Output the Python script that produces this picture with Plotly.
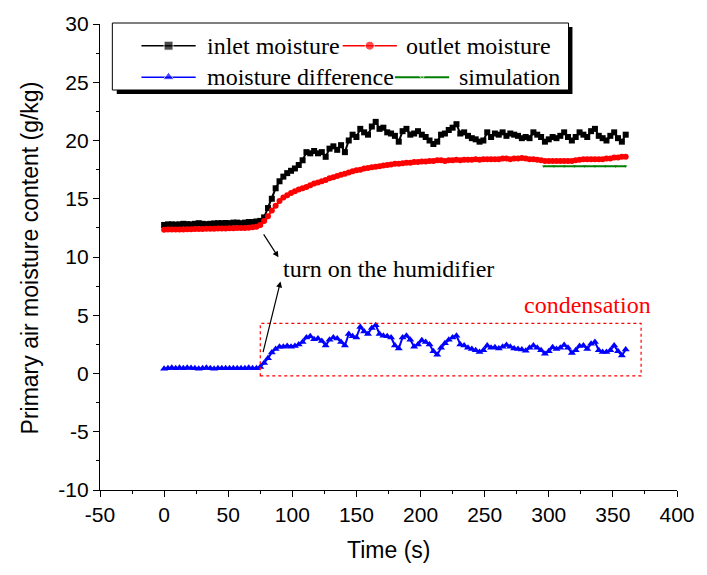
import numpy as np
import plotly.graph_objects as go

# Time axis of the measurements (s), one reading every 3 s
time_s = list(range(0, 361, 3))

inlet_moisture = [
    12.75, 12.8, 12.8, 12.78, 12.8, 12.85, 12.82, 12.8, 12.85, 12.9, 12.85, 12.82,
    12.85, 12.88, 12.9, 12.9, 12.92, 12.9, 12.95, 12.95, 12.9, 12.95, 13.0, 13.0,
    13.05, 13.1, 13.4, 14.2, 15.0, 15.9, 16.5, 16.9, 17.2, 17.4, 17.6, 17.9,
    18.3, 19.0, 18.9, 19.1, 18.9, 19.0, 18.6, 19.3, 19.5, 19.2, 19.6, 19.0,
    20.0, 20.5, 20.3, 21.0, 20.7, 20.5, 21.2, 21.6, 21.0, 21.1, 20.7, 20.6,
    20.4, 19.9, 20.8, 21.0, 20.5, 20.6, 20.8, 20.5, 20.3, 20.0, 19.7, 19.9,
    20.5, 20.6, 20.9, 21.1, 21.4, 20.6, 20.7, 20.4, 20.2, 20.1, 19.9, 20.0,
    20.7, 20.3, 20.6, 20.5, 20.7, 20.4, 20.6, 20.5, 20.4, 20.2, 20.3, 20.2,
    20.7, 20.5, 20.3, 19.9, 20.1, 20.3, 20.2, 20.4, 20.7, 20.3, 20.0, 20.3,
    20.7, 20.5, 20.3, 20.8, 21.0, 20.4, 20.2, 20.0, 20.4, 20.7, 20.2, 19.9,
    20.5,
]

outlet_moisture = [
    12.33, 12.35, 12.35, 12.35, 12.37, 12.37, 12.38, 12.38, 12.4, 12.4, 12.4, 12.42,
    12.42, 12.43, 12.45, 12.45, 12.45, 12.47, 12.47, 12.48, 12.5, 12.5, 12.52, 12.55,
    12.6, 12.75, 13.1, 13.5, 14.0, 14.4, 14.8, 15.1, 15.3, 15.5, 15.65, 15.8,
    15.9, 16.0, 16.15, 16.3, 16.4, 16.5, 16.6, 16.75, 16.85, 16.95, 17.05, 17.15,
    17.25, 17.35, 17.45, 17.5, 17.6, 17.65, 17.7, 17.75, 17.8, 17.85, 17.9, 17.95,
    18.0, 18.0, 18.05, 18.1, 18.1, 18.15, 18.15, 18.2, 18.2, 18.25, 18.25, 18.3,
    18.3, 18.25, 18.3, 18.3, 18.35, 18.3, 18.35, 18.35, 18.35, 18.4, 18.35, 18.4,
    18.4, 18.4, 18.4, 18.4, 18.45, 18.45, 18.4, 18.45, 18.45, 18.5, 18.45, 18.4,
    18.4, 18.35, 18.3, 18.25, 18.25, 18.25, 18.25, 18.25, 18.25, 18.25, 18.25, 18.3,
    18.35, 18.4, 18.4, 18.4, 18.4, 18.4, 18.4, 18.45, 18.45, 18.55, 18.55, 18.6,
    18.6,
]

moisture_difference = [
    0.4, 0.45, 0.5, 0.45, 0.5, 0.45, 0.5, 0.48, 0.45, 0.4, 0.45, 0.5,
    0.45, 0.4, 0.45, 0.45, 0.45, 0.45, 0.45, 0.45, 0.45, 0.45, 0.5, 0.45,
    0.45, 0.55, 0.9, 1.3, 1.8, 2.1, 2.3, 2.3, 2.35, 2.3, 2.35, 2.5,
    2.7, 3.1, 3.2, 2.95, 3.0, 2.8, 2.4, 2.9, 3.1, 3.0, 2.7, 2.4,
    3.4, 3.2, 3.1, 4.0, 3.6, 3.4, 3.9, 4.15, 3.4, 3.25, 3.2, 3.1,
    2.4, 2.15, 3.1, 3.25, 2.9, 2.3, 2.5, 2.85, 2.7, 2.5, 1.9, 1.6,
    2.2, 2.6, 2.9, 3.1, 3.25, 2.5, 2.4, 2.2, 2.1, 2.0, 1.85, 2.0,
    2.4, 2.2, 2.25, 2.15, 2.3, 2.45, 2.3, 2.15, 2.1, 2.05, 1.95, 2.2,
    2.4, 2.2, 2.0, 1.7, 1.9, 2.25, 2.1, 2.2, 2.45, 2.2, 1.75, 2.0,
    2.35, 2.4, 2.1, 2.55, 2.7, 2.0, 1.85, 1.85, 2.0, 2.4, 1.9, 1.55,
    2.05,
]

# Steady-state simulation result
sim_time = [296, 304, 312, 320, 328, 336, 344, 352, 360]
sim_moisture = [17.8, 17.8, 17.8, 17.8, 17.8, 17.8, 17.8, 17.8, 17.8]

# Tick labels (plain hyphen for negatives)
x_ticks = [-50, 0, 50, 100, 150, 200, 250, 300, 350, 400]
x_ticklabels = ["-50", "0", "50", "100", "150", "200", "250", "300", "350", "400"]
y_ticks = [-10, -5, 0, 5, 10, 15, 20, 25, 30]
y_ticklabels = ["-10", "-5", "0", "5", "10", "15", "20", "25", "30"]

assert len(inlet_moisture) == len(time_s)
assert len(outlet_moisture) == len(time_s)
assert len(moisture_difference) == len(time_s)

SERIF = "Liberation Serif, Times New Roman, serif"
SANS = "Liberation Sans, Arial, sans-serif"

# plot area in pixels: x 100..685, y 17..490
L, R, T, B = 100, 685, 17, 490


def px_x(px):
    return (px - L) / (R - L)


def px_y(py):
    return (B - py) / (B - T)


fig = go.Figure()

fig.add_trace(go.Scatter(
    x=time_s, y=inlet_moisture, mode="lines+markers", name="inlet moisture",
    line=dict(color="black", width=2),
    marker=dict(symbol="square", size=6, color="black"),
))
fig.add_trace(go.Scatter(
    x=time_s, y=outlet_moisture, mode="lines+markers", name="outlet moisture",
    line=dict(color="#ff0000", width=2),
    marker=dict(symbol="circle", size=6, color="#ff0000"),
))
fig.add_trace(go.Scatter(
    x=time_s, y=moisture_difference, mode="lines+markers", name="moisture difference",
    line=dict(color="#0000ff", width=2),
    marker=dict(symbol="triangle-up", size=7, color="#0000ff"),
))
fig.add_trace(go.Scatter(
    x=sim_time, y=sim_moisture, mode="lines+markers", name="simulation",
    line=dict(color="#008000", width=2),
    marker=dict(symbol="triangle-down", size=3, color="#008000"),
))

# Legend drawn in a pixel-scaled overlay subplot (x2/y2)
legend_items = [
    # (line x0, line x1, row y, colour, symbol, size, label x, label)
    (142, 197, 39, "black", "square", 9, 206, "inlet moisture"),
    (346, 401, 39, "#ff0000", "circle", 9, 408, "outlet moisture"),
    (142, 197, 71, "#0000ff", "triangle-up", 10, 206, "moisture difference"),
    (399, 454, 71, "#008000", "triangle-down", 4, 462, "simulation"),
]
for x0, x1, yy, col, sym, sz, lx, label in legend_items:
    xm = (x0 + x1) / 2
    fig.add_trace(go.Scatter(
        x=[x0, xm, x1], y=[yy, yy, yy], xaxis="x2", yaxis="y2",
        mode="lines+markers", showlegend=False, hoverinfo="skip", cliponaxis=False,
        line=dict(color=col, width=1.5 if col != "#008000" else 2),
        marker=dict(symbol=sym, size=[0, sz, 0], color=col),
    ))
    fig.add_annotation(
        x=lx, y=yy, xref="x2", yref="y2", text=label, showarrow=False,
        xanchor="left", yanchor="middle",
        font=dict(family=SERIF, size=24, color="black"),
    )

shapes = [
    # legend shadow and frame
    dict(type="rect", xref="paper", yref="paper", x0=px_x(117), x1=px_x(579),
         y0=px_y(88), y1=px_y(20), fillcolor="black", line=dict(width=0), layer="below"),
    dict(type="rect", xref="paper", yref="paper", x0=px_x(112.5), x1=px_x(575),
         y0=px_y(84), y1=px_y(16), fillcolor="white", line=dict(color="black", width=1),
         layer="below"),
    # condensation region
    dict(type="rect", xref="x", yref="y", x0=75, x1=372, y0=-0.2, y1=4.3,
         line=dict(color="#ff0000", width=1.2, dash="3px,3px"), fillcolor="rgba(0,0,0,0)"),
]

annotations_extra = [
    dict(x=90.8, y=8.95, xref="x", yref="y", text="turn on the humidifier",
         showarrow=False, xanchor="left", yanchor="middle",
         font=dict(family=SERIF, size=24, color="black")),
    dict(x=89.2, y=9.97, ax=76.9, ay=12.07, xref="x", yref="y", axref="x", ayref="y",
         text="", showarrow=True, arrowhead=2, arrowsize=1, arrowwidth=1.2,
         arrowcolor="black", standoff=0),
    dict(x=90.8, y=7.9, ax=76.9, ay=1.7, xref="x", yref="y", axref="x", ayref="y",
         text="", showarrow=True, arrowhead=2, arrowsize=1, arrowwidth=1.2,
         arrowcolor="black", standoff=0),
    dict(x=330, y=5.9, xref="x", yref="y", text="condensation", showarrow=False,
         xanchor="center", yanchor="middle",
         font=dict(family=SERIF, size=24, color="#ff0000")),
    # axis titles
    dict(x=px_x(392), y=px_y(551), xref="paper", yref="paper", text="Time (s)",
         showarrow=False, xanchor="center", yanchor="middle",
         font=dict(family=SANS, size=23, color="black")),
    dict(x=px_x(30), y=px_y(254), xref="paper", yref="paper",
         text="Primary air moisture content (g/kg)", showarrow=False, textangle=-90,
         xanchor="center", yanchor="middle",
         font=dict(family=SANS, size=23, color="black")),
]
for a in annotations_extra:
    fig.add_annotation(**a)

axis_common = dict(
    showgrid=False, zeroline=False, showline=True, linecolor="black", linewidth=1.2,
    ticks="outside", ticklen=6, tickwidth=1.2, tickcolor="black", mirror=False,
    tickfont=dict(family=SANS, size=21, color="black"),
)

fig.update_layout(
    width=707, height=575,
    margin=dict(l=L, r=707 - R, t=T, b=575 - B),
    paper_bgcolor="white", plot_bgcolor="white",
    showlegend=False,
    shapes=shapes,
    xaxis=dict(range=[-50, 400], tickmode="array", tickvals=x_ticks, ticktext=x_ticklabels,
               minor=dict(ticks="outside", ticklen=3, tickwidth=1, tickcolor="black",
                          dtick=25, tick0=-50),
               **axis_common),
    yaxis=dict(range=[-10, 30], tickmode="array", tickvals=y_ticks, ticktext=y_ticklabels,
               minor=dict(ticks="outside", ticklen=3, tickwidth=1, tickcolor="black",
                          dtick=2.5, tick0=-10),
               **axis_common),
    xaxis2=dict(overlaying="x", range=[L, R], visible=False, fixedrange=True),
    yaxis2=dict(overlaying="y", range=[B, T], visible=False, fixedrange=True),
)

fig.write_html("out.html")
